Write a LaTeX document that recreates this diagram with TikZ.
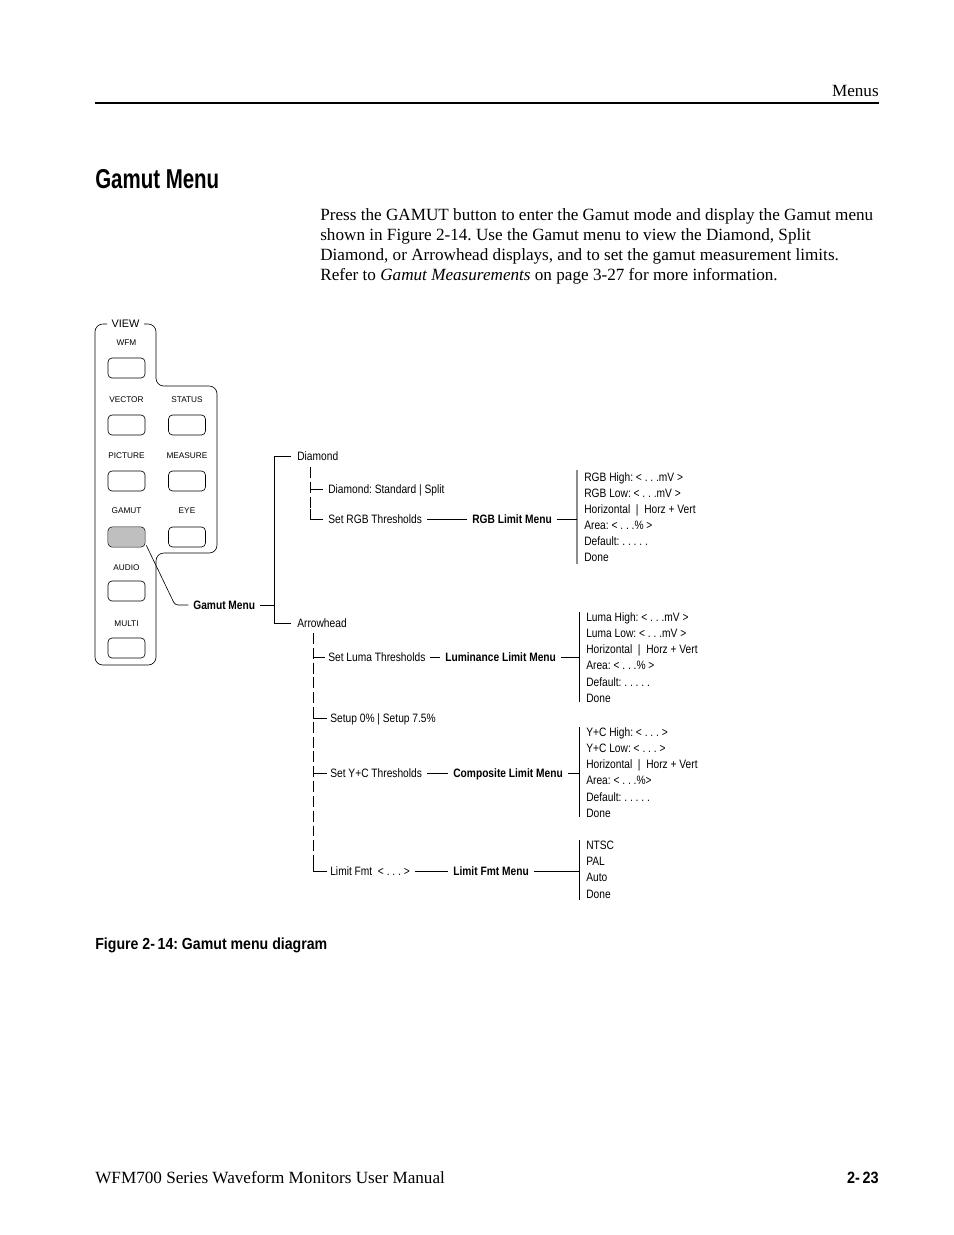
\documentclass[tikz,border=0pt]{standalone}
\usepackage{fontspec}
\setmainfont{Liberation Serif}
\newfontfamily\narrowfont[FakeStretch=0.84]{Liberation Sans}
\newfontfamily\keyfont{Liberation Sans}
\newfontfamily\headfont[FakeStretch=0.75]{Liberation Sans}
\newfontfamily\captfont[FakeStretch=0.88]{Liberation Sans}
\usetikzlibrary{calc}
\frenchspacing

\begin{document}
\begin{tikzpicture}[x=0.6415pt, y=-0.6415pt,
    lbl/.style={font=\narrowfont\fontsize{7.8}{9}\selectfont, inner sep=0pt, anchor=west, text height=5.6pt, text depth=0pt},
    menulbl/.style={lbl, font=\narrowfont\bfseries\fontsize{7.8}{9}\selectfont},
    keylbl/.style={font=\keyfont\fontsize{5.3}{6}\selectfont, inner sep=0pt},
    btn/.style={draw, rounded corners=2.5pt, minimum width=23.7pt, minimum height=12.8pt, inner sep=0pt},
    body/.style={font=\fontsize{11}{13}\selectfont, inner sep=0pt, anchor=west, text height=7.3pt, text depth=0pt},
    trunk/.style={dash pattern=on 7pt off 2.5pt},
    link/.style={shorten <=3pt, shorten >=3pt}]
    \useasboundingbox (0,0) rectangle (954,1235);
    \fill[white] (0,0) rectangle (954,1235);

    % Page header
    \node[body, anchor=east] (hdr) at (879,91) {Menus};
    \draw[line width=0.8pt] (95,103) -- (879,103);
    \node[font=\headfont\bfseries\fontsize{17.5}{20}\selectfont, inner sep=0pt, anchor=west] (title) at (95,179) {Gamut Menu};

    % Text above the figure
    \node[body] (p1) at (320,215) {Press the GAMUT button to enter the Gamut mode and display the Gamut menu};
    \node[body] (p2) at (320,235) {shown in Figure 2-14. Use the Gamut menu to view the Diamond, Split};
    \node[body] (p3) at (320,255) {Diamond, or Arrowhead displays, and to set the gamut measurement limits.};
    \node[body] (p4) at (320,275) {Refer to \emph{Gamut Measurements} on page 3-27 for more information.};

    % Front panel
    \draw[rounded corners=5pt] (107,324) -- (95,324) -- (95,665) -- (156,665) -- (156,553)
        -- (217,553) -- (217,386) -- (156,386) -- (156,324) -- (144,324);
    \node[font=\keyfont\fontsize{7}{8}\selectfont, inner sep=0pt] (view) at (125.5,324) {VIEW};
    \foreach \name/\lab/\ly/\by in {wfm/WFM/343/368, vector/VECTOR/400/425, picture/PICTURE/456/481,
        gamut/GAMUT/511/537, audio/AUDIO/568/591, multi/MULTI/624/648} {
        \node[keylbl] (\name-lbl) at (126.5,\ly) {\lab};
        \node[btn] (\name-btn) at (126.5,\by) {};
    }
    \foreach \name/\lab/\ly/\by in {status/STATUS/400/425, measure/MEASURE/456/481, eye/EYE/511/537} {
        \node[keylbl] (\name-lbl) at (187,\ly) {\lab};
        \node[btn] (\name-btn) at (187,\by) {};
    }
    \fill[black!25, rounded corners=2.5pt] ([shift={(0.8,-0.8)}]gamut-btn.south west) rectangle ([shift={(-0.8,0.8)}]gamut-btn.north east);

    % Gamut Menu
    \node[menulbl] (gamutmenu) at (193,605) {Gamut Menu};
    \draw[rounded corners=2pt, shorten >=3pt] ([shift={(1,-2)}]gamut-btn.south east) -- (175,605) -- (gamutmenu.west);
    \coordinate (bracket) at (274,605);
    \draw[shorten <=3pt] (gamutmenu.east) -- (bracket);
    \node[lbl] (diamond) at (297,456) {Diamond};
    \node[lbl] (arrowhead) at (297,623) {Arrowhead};
    \draw[shorten <=4pt, shorten >=4pt] (diamond.west) -- (bracket |- diamond) -- (bracket |- arrowhead) -- (arrowhead.west);

    % Diamond branch
    \node[lbl] (dmode) at (328,489) {Diamond: Standard | Split};
    \node[lbl] (setrgb) at (328,519) {Set RGB Thresholds};
    \coordinate (dtrunk) at (310,467);
    \draw[trunk] (dtrunk) -- (dtrunk |- setrgb);
    \draw[shorten >=3pt] ($(dtrunk |- setrgb)+(0,-10)$) -- (dtrunk |- setrgb) -- (setrgb.west);
    \draw[shorten >=3pt] (dtrunk |- dmode) -- (dmode.west);
    \node[menulbl] (rgbmenu) at (472,519) {RGB Limit Menu};
    \draw[link] (setrgb.east) -- (rgbmenu.west);
    \coordinate (rgbtop) at (577,470);
    \coordinate (rgbbot) at (577,564);
    \draw[black!45, line width=0.9pt] (rgbtop) -- (rgbbot);
    \draw[shorten <=3pt] (rgbmenu.east) -- (rgbmenu.east -| rgbtop);
    \foreach \t [count=\i from 0] in {RGB High: < . . .mV >, RGB Low: < . . .mV >,
        Horizontal \ | \ Horz + Vert, Area: < . . .\% >, Default: . . . . ., Done}
        \node[lbl] (rgb-\i) at (584,477+16*\i) {\t};

    % Arrowhead branch
    \coordinate (atrunk) at (313,633);
    \node[lbl] (setluma) at (328,657.5) {Set Luma Thresholds};
    \node[lbl] (setup) at (330,718) {Setup 0\% | Setup 7.5\%};
    \node[lbl] (setyc) at (330,773) {Set Y+C Thresholds};
    \node[lbl] (limfmt) at (330,871) {Limit Fmt \ < . . . >};
    \draw[trunk] (atrunk) -- (atrunk |- limfmt);
    \draw ($(atrunk |- limfmt)+(0,-8)$) -- (atrunk |- limfmt);
    \foreach \n in {setluma, setup, setyc, limfmt}
        \draw[shorten >=2pt] (atrunk |- \n) -- (\n.west);

    % Luminance limit menu
    \node[menulbl] (lumamenu) at (445,657.5) {Luminance Limit Menu};
    \draw[link] (setluma.east) -- (lumamenu.west);
    \coordinate (lumatop) at (579,612);
    \coordinate (lumabot) at (579,702);
    \draw (lumatop) -- (lumabot);
    \draw[shorten <=3pt] (lumamenu.east) -- (lumamenu.east -| lumatop);
    \foreach \t [count=\i from 0] in {Luma High: < . . .mV >, Luma Low: < . . .mV >,
        Horizontal \ | \ Horz + Vert, Area: < . . .\% >, Default: . . . . ., Done}
        \node[lbl] (luma-\i) at (586,617+16.2*\i) {\t};

    % Composite limit menu
    \node[menulbl] (compmenu) at (453,773) {Composite Limit Menu};
    \draw[link] (setyc.east) -- (compmenu.west);
    \coordinate (comptop) at (579,727);
    \coordinate (compbot) at (579,817);
    \draw (comptop) -- (compbot);
    \draw[shorten <=3pt] (compmenu.east) -- (compmenu.east -| comptop);
    \foreach \t [count=\i from 0] in {Y+C High: < . . . >, Y+C Low: < . . . >,
        Horizontal \ | \ Horz + Vert, Area: < . . .\%>, Default: . . . . ., Done}
        \node[lbl] (comp-\i) at (586,732+16.2*\i) {\t};

    % Limit format menu
    \node[menulbl] (fmtmenu) at (453,871) {Limit Fmt Menu};
    \draw[link] (limfmt.east) -- (fmtmenu.west);
    \coordinate (fmttop) at (579,840);
    \coordinate (fmtbot) at (579,900);
    \draw (fmttop) -- (fmtbot);
    \draw[shorten <=3pt] (fmtmenu.east) -- (fmtmenu.east -| fmttop);
    \foreach \t [count=\i from 0] in {NTSC, PAL, Auto, Done}
        \node[lbl] (fmt-\i) at (586,845+16.3*\i) {\t};

    % Caption and footer
    \node[font=\captfont\bfseries\fontsize{10.3}{12}\selectfont, inner sep=0pt, anchor=west, text height=7.4pt, text depth=0pt] (caption) at (95,944) {Figure 2-\,14: Gamut menu diagram};
    \node[body] (manual) at (95,1178) {WFM700 Series Waveform Monitors User Manual};
    \node[font=\captfont\bfseries\fontsize{10.5}{12}\selectfont, inner sep=0pt, anchor=east, text height=7.5pt, text depth=0pt] (pageno) at (879,1178) {2-\,23};
\end{tikzpicture}
\end{document}
